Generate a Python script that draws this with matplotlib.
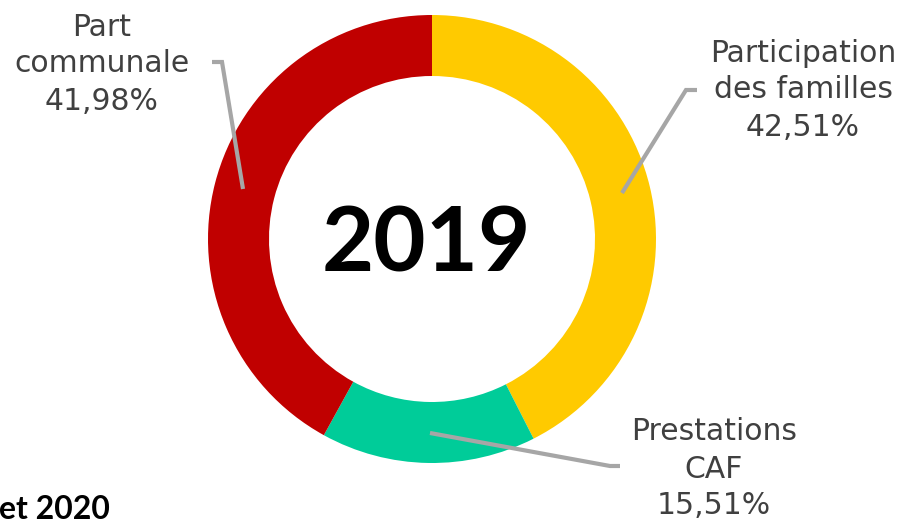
import matplotlib
matplotlib.use("Agg")
import matplotlib.pyplot as plt

# Data
categories = ["Participation\ndes familles", "Prestations\nCAF", "Part\ncommunale"]
values = [42.51, 15.51, 41.98]
value_labels = ["42,51%", "15,51%", "41,98%"]
colors = ["#FFCA00", "#00CC99", "#C00000"]
center_title = "2019"
corner_text = "et 2020"

W, H = 906, 522
fig = plt.figure(figsize=(W / 100, H / 100), dpi=100)
ax = fig.add_axes([0, 0, 1, 1])
ax.set_xlim(0, W)
ax.set_ylim(0, H)
ax.set_aspect("equal")
ax.axis("off")

cx, cy_px, R = 432, 239, 224
cy = H - cy_px
ax.pie(values, colors=colors, startangle=90, counterclock=False,
       center=(cx, cy), radius=R, frame=True,
       wedgeprops=dict(width=61, linewidth=0))
ax.set_xlim(0, W)
ax.set_ylim(0, H)
ax.axis("off")

ax.text(cx - 6, H - 246, center_title, ha="center", va="center",
        fontsize=65, fontweight="bold", family=["Lato", "DejaVu Sans"], color="black")

# leader lines (pixel coords)
leaders = [
    [(622, 193), (686, 90), (697, 90)],
    [(430, 433), (610, 466), (620, 466)],
    [(243, 189), (222, 62), (212, 62)],
]
for pts in leaders:
    xs = [p[0] for p in pts]
    ys = [H - p[1] for p in pts]
    ax.plot(xs, ys, color="#A6A6A6", lw=3, solid_joinstyle="miter", solid_capstyle="butt")

label_pos = [(803, 53), (714, 432), (102, 27)]
spacing = 37
for cat, val, (lx, ly) in zip(categories, value_labels, label_pos):
    lines = cat.split("\n") + [val]
    for i, line in enumerate(lines):
        ax.text(lx, H - (ly + i * spacing), line, ha="center", va="center",
                fontsize=21.5, family="DejaVu Sans", color="#404040")

ax.text(-1, H - 519, corner_text, ha="left", va="baseline", fontsize=23,
        fontweight="bold", family=["Lato", "DejaVu Sans"], color="black")

fig.savefig("out.png", dpi=100)
